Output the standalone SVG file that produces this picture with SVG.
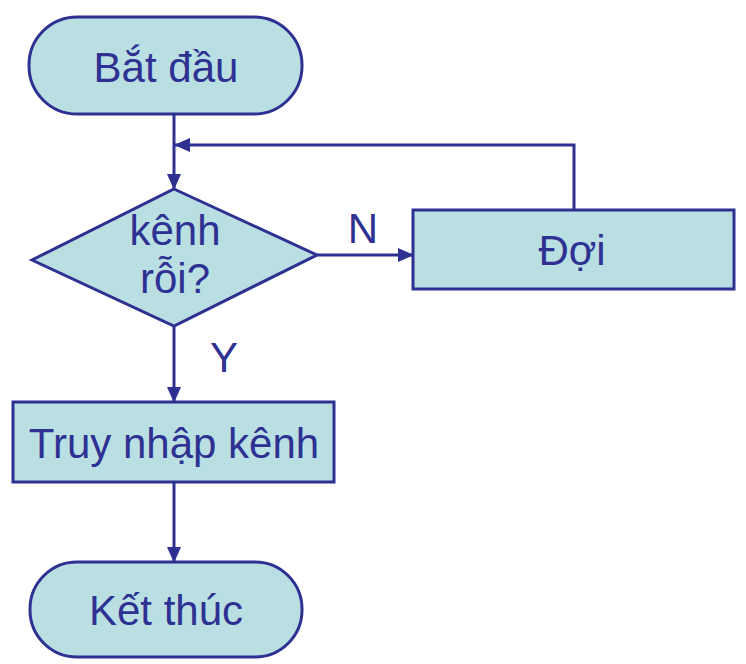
<svg xmlns="http://www.w3.org/2000/svg" width="746" height="664" viewBox="0 0 746 664">
<style>
.node{fill:#b9dfe3;stroke:#2e3192;stroke-width:3}
.lbl{font-family:"Liberation Sans",Arial,sans-serif;font-size:42px;fill:#2e3192;text-anchor:middle}
.edge{fill:none;stroke:#2e3192;stroke-width:3}
</style>
<defs>
<marker id="arr" markerUnits="userSpaceOnUse" markerWidth="16" markerHeight="14" refX="15" refY="7" orient="auto">
<path d="M0,0 L16,7 L0,14 Z" fill="#2e3192"/>
</marker>
</defs>
<rect width="746" height="664" fill="#ffffff"/>
<g id="edges">
<line class="edge" x1="174" y1="114" x2="174" y2="189" marker-end="url(#arr)"/>
<polyline class="edge" points="574,210 574,145 175,145" marker-end="url(#arr)"/>
<line class="edge" x1="317" y1="255" x2="413" y2="255" marker-end="url(#arr)"/>
<line class="edge" x1="174" y1="326" x2="174" y2="402" marker-end="url(#arr)"/>
<line class="edge" x1="174" y1="482" x2="174" y2="562" marker-end="url(#arr)"/>
<text class="lbl" x="363" y="243">N</text>
<text class="lbl" x="224" y="372">Y</text>
</g>
<g id="start">
<rect class="node" x="29" y="17" width="273" height="97" rx="48" ry="48"/>
<text class="lbl" x="166" y="82">Bắt đầu</text>
</g>
<g id="decision">
<polygon class="node" points="174,189 317,255 174,326 32,260"/>
<text class="lbl" x="175" y="245">kênh</text>
<text class="lbl" x="175" y="293">rỗi?</text>
</g>
<g id="wait">
<rect class="node" x="413" y="210" width="321" height="79"/>
<text class="lbl" x="572" y="265">Đợi</text>
</g>
<g id="access">
<rect class="node" x="13" y="402" width="321" height="80"/>
<text class="lbl" x="174" y="458">Truy nhập kênh</text>
</g>
<g id="end">
<rect class="node" x="30" y="562" width="272" height="95" rx="47" ry="47"/>
<text class="lbl" x="166" y="625">Kết thúc</text>
</g>
</svg>
